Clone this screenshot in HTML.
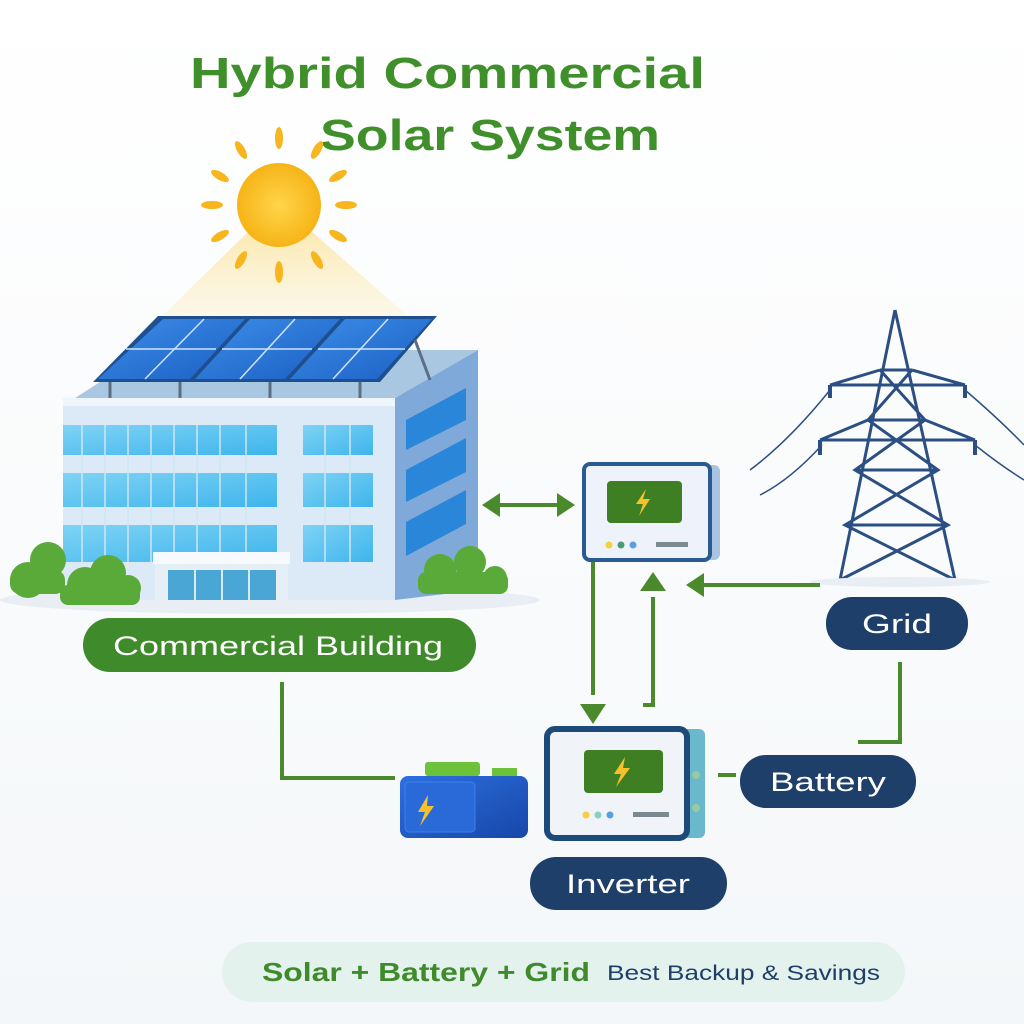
<!DOCTYPE html>
<html><head><meta charset="utf-8"><style>
body{margin:0;background:#fff}
svg{display:block}
text{font-family:"Liberation Sans",sans-serif}
</style></head><body>
<svg width="1024" height="1024" viewBox="0 0 1024 1024">
<defs>
<linearGradient id="bg" x1="0" y1="0" x2="0" y2="1"><stop offset="0" stop-color="#ffffff"/><stop offset="1" stop-color="#f4f7f9"/></linearGradient>
<linearGradient id="cone" x1="0" y1="0" x2="0" y2="1"><stop offset="0" stop-color="#fbe7a8" stop-opacity=".9"/><stop offset="1" stop-color="#fdf3d6" stop-opacity=".5"/></linearGradient>
<radialGradient id="sun"><stop offset="0" stop-color="#ffd54a"/><stop offset="1" stop-color="#f6b417"/></radialGradient>
<linearGradient id="win" x1="0" y1="0" x2="1" y2="1"><stop offset="0" stop-color="#7fd3f5"/><stop offset="1" stop-color="#3eb5ec"/></linearGradient>
<linearGradient id="panel" x1="0" y1="0" x2="1" y2="1"><stop offset="0" stop-color="#3d8ee8"/><stop offset="1" stop-color="#1b5fc4"/></linearGradient>
<linearGradient id="bat" x1="0" y1="0" x2="1" y2="1"><stop offset="0" stop-color="#2d6fe0"/><stop offset="1" stop-color="#1747a8"/></linearGradient>
</defs>
<rect width="1024" height="1024" fill="url(#bg)"/>
<text x="190" y="88" font-size="44" font-weight="bold" fill="#3f8f2a" textLength="515" lengthAdjust="spacingAndGlyphs">Hybrid Commercial</text>
<text x="320" y="150" font-size="44" font-weight="bold" fill="#3f8f2a" textLength="340" lengthAdjust="spacingAndGlyphs">Solar System</text>
<!-- light cone -->
<polygon points="250,230 310,230 410,318 160,318" fill="url(#cone)"/>
<!-- sun rays -->
<g fill="#f7b51e">
<ellipse cx="279" cy="138" rx="4" ry="11"/><ellipse cx="279" cy="272" rx="4" ry="11"/>
<ellipse cx="212" cy="205" rx="11" ry="4"/><ellipse cx="346" cy="205" rx="11" ry="4"/>
<ellipse cx="241" cy="150" rx="4" ry="10" transform="rotate(-30 241 150)"/><ellipse cx="317" cy="150" rx="4" ry="10" transform="rotate(30 317 150)"/>
<ellipse cx="241" cy="260" rx="4" ry="10" transform="rotate(30 241 260)"/><ellipse cx="317" cy="260" rx="4" ry="10" transform="rotate(-30 317 260)"/>
<ellipse cx="220" cy="176" rx="10" ry="4" transform="rotate(30 220 176)"/><ellipse cx="338" cy="176" rx="10" ry="4" transform="rotate(-30 338 176)"/>
<ellipse cx="220" cy="236" rx="10" ry="4" transform="rotate(-30 220 236)"/><ellipse cx="338" cy="236" rx="10" ry="4" transform="rotate(30 338 236)"/>
</g>
<circle cx="279" cy="205" r="42" fill="url(#sun)"/>
<!-- ground shadow -->
<ellipse cx="270" cy="600" rx="270" ry="14" fill="#e8eef3"/>
<!-- building -->
<polygon points="75,398 395,398 478,350 150,350" fill="#a9c7e0"/>
<polygon points="395,398 478,350 478,590 395,600" fill="#7fa9d8"/>
<rect x="63" y="398" width="332" height="202" fill="#dce9f6"/>
<rect x="63" y="398" width="332" height="8" fill="#eef5fb"/>
<g fill="url(#win)">
<rect x="63" y="425" width="214" height="30"/><rect x="303" y="425" width="70" height="30"/>
<rect x="63" y="473" width="214" height="34"/><rect x="303" y="473" width="70" height="34"/>
<rect x="63" y="525" width="214" height="37"/><rect x="303" y="525" width="70" height="37"/>
</g>
<g stroke="#cfe6f5" stroke-width="1.5">
<path d="M82 425V562M105 425V562M128 425V562M151 425V562M174 425V562M197 425V562M220 425V562M246 425V562M325 425V562M350 425V562"/>
</g>
<g fill="#2a86d8">
<polygon points="406,420 466,388 466,420 406,450"/>
<polygon points="406,470 466,438 466,472 406,502"/>
<polygon points="406,522 466,490 466,524 406,556"/>
</g>
<rect x="155" y="563" width="133" height="37" fill="#e6eef6"/>
<rect x="168" y="570" width="108" height="30" fill="#4aa6d4"/>
<path d="M195 570V600M222 570V600M249 570V600" stroke="#d8ecf6" stroke-width="2"/>
<rect x="153" y="552" width="137" height="12" fill="#f7fafc"/>
<!-- panels -->
<polygon points="158,316 437,316 380,382 93,382" fill="#1e4f8e"/>
<polygon points="163,319 245,319 190,379 98,379" fill="url(#panel)"/>
<polygon points="250,319 340,319 285,379 195,379" fill="url(#panel)"/>
<polygon points="345,319 432,319 377,379 290,379" fill="url(#panel)"/>
<g stroke="#cfe3fa" stroke-width="1.5">
<path d="M126 349H216M222 349H312M318 349H405M204 319L145 379M295 319L240 379M388 319L333 379"/>
</g>
<path d="M110 382V398M180 382V398M270 382V398M360 382V398M415 340L430 380" stroke="#5a6f86" stroke-width="3"/>
<!-- bushes -->
<g fill="#5aaa3a">
<circle cx="48" cy="560" r="18"/><circle cx="28" cy="580" r="18"/><rect x="10" y="570" width="55" height="24" rx="10"/>
<circle cx="85" cy="585" r="18"/><circle cx="108" cy="573" r="18"/><circle cx="128" cy="588" r="13"/><rect x="60" y="585" width="80" height="20" rx="8"/>
<circle cx="440" cy="570" r="16"/><circle cx="470" cy="562" r="16"/><circle cx="495" cy="578" r="12"/><rect x="418" y="572" width="90" height="22" rx="8"/>
</g>
<!-- tower -->
<g stroke="#2b4f82" stroke-width="3" fill="none">
<path d="M895 310L840 580M895 310L955 580M880 370H912M868 420H925M855 470H938M845 525H948M880 370L925 420L855 470L948 525L840 580M912 370L868 420L938 470L845 525L955 580"/>
<path d="M830 385H965M820 440H975M830 385L880 370M965 385L912 370M820 440L868 420M975 440L925 420"/>
<path d="M830 390Q790 440 750 470M822 445Q790 480 760 495M965 390Q1000 420 1024 445M975 445Q1000 465 1024 480" stroke-width="1.5"/>
<path d="M830 385V398M965 385V398M820 440V455M975 440V455" stroke-width="4"/>
</g>
<ellipse cx="900" cy="582" rx="90" ry="5" fill="#e8eef3"/>
<!-- connectors -->
<g stroke="#4a8a2c" stroke-width="4" fill="none">
<path d="M498 505H560"/>
<path d="M593 562V695"/>
<path d="M653 597V705H643"/>
<path d="M820 585H700"/>
<path d="M900 662V742H858"/>
<path d="M718 775H736"/>
<path d="M282 682V778H395"/>
</g>
<g fill="#4a8a2c">
<polygon points="482,505 500,493 500,517"/><polygon points="575,505 557,493 557,517"/>
<polygon points="580,704 606,704 593,724"/>
<polygon points="653,572 640,591 666,591"/>
<polygon points="686,585 704,573 704,597"/>
</g>
<!-- top inverter -->
<rect x="690" y="465" width="30" height="95" rx="6" fill="#a8c4e0"/>
<rect x="584" y="464" width="126" height="96" rx="6" fill="#eef3fb" stroke="#2a5a92" stroke-width="4"/>
<rect x="607" y="481" width="75" height="42" rx="4" fill="#3f7f24"/>
<polygon points="646,489 636,504 643,504 639,516 650,499 643,499" fill="#f8c12a"/>
<circle cx="609" cy="545" r="3.5" fill="#f4d03f"/><circle cx="621" cy="545" r="3.5" fill="#4a9a7a"/><circle cx="633" cy="545" r="3.5" fill="#5aa0e0"/>
<rect x="656" y="542" width="32" height="5" fill="#7a8a90"/>
<!-- battery -->
<rect x="425" y="762" width="55" height="14" rx="3" fill="#6cc33a"/>
<rect x="492" y="768" width="25" height="12" fill="#6cc33a"/>
<rect x="400" y="776" width="128" height="62" rx="8" fill="url(#bat)"/>
<rect x="405" y="782" width="70" height="50" rx="4" fill="#2a6ad8" stroke="#3b82ea"/>
<polygon points="428,795 418,812 425,812 420,826 434,806 427,806" fill="#f8c12a"/>
<!-- bottom inverter -->
<rect x="680" y="729" width="25" height="109" rx="6" fill="#6ab8cc"/>
<rect x="547" y="729" width="140" height="109" rx="8" fill="#f0f3f8" stroke="#1e4a7a" stroke-width="6"/>
<rect x="584" y="750" width="79" height="43" rx="4" fill="#3f7f24"/>
<polygon points="625,757 614,774 621,774 616,787 630,768 623,768" fill="#f8c12a"/>
<circle cx="586" cy="815" r="3.5" fill="#f4d03f"/><circle cx="598" cy="815" r="3.5" fill="#8ad0c0"/><circle cx="610" cy="815" r="3.5" fill="#5aa0e0"/>
<rect x="633" y="812" width="36" height="5" fill="#7a8a90"/>
<circle cx="696" cy="775" r="4" fill="#9ac8a0"/><circle cx="696" cy="808" r="4" fill="#9ac8a0"/>
<!-- pills -->
<rect x="83" y="618" width="393" height="54" rx="27" fill="#3f8a2a"/>
<text x="113" y="655" font-size="27" fill="#fff" textLength="330" lengthAdjust="spacingAndGlyphs">Commercial Building</text>
<rect x="826" y="597" width="142" height="53" rx="26" fill="#1e3f6a"/>
<text x="862" y="633" font-size="27" fill="#fff" textLength="70" lengthAdjust="spacingAndGlyphs">Grid</text>
<rect x="740" y="755" width="176" height="53" rx="26" fill="#1e3f6a"/>
<text x="770" y="791" font-size="27" fill="#fff" textLength="116" lengthAdjust="spacingAndGlyphs">Battery</text>
<rect x="530" y="857" width="197" height="53" rx="26" fill="#1e3f6a"/>
<text x="566" y="893" font-size="27" fill="#fff" textLength="124" lengthAdjust="spacingAndGlyphs">Inverter</text>
<!-- banner -->
<rect x="222" y="942" width="683" height="60" rx="30" fill="#e4f2ee"/>
<text x="262" y="981" font-size="26" font-weight="bold" fill="#3f8a2a" textLength="328" lengthAdjust="spacingAndGlyphs">Solar + Battery + Grid</text>
<text x="607" y="980" font-size="21" fill="#1e3f6a" textLength="273" lengthAdjust="spacingAndGlyphs">Best Backup &amp; Savings</text>
</svg>
</body></html>
